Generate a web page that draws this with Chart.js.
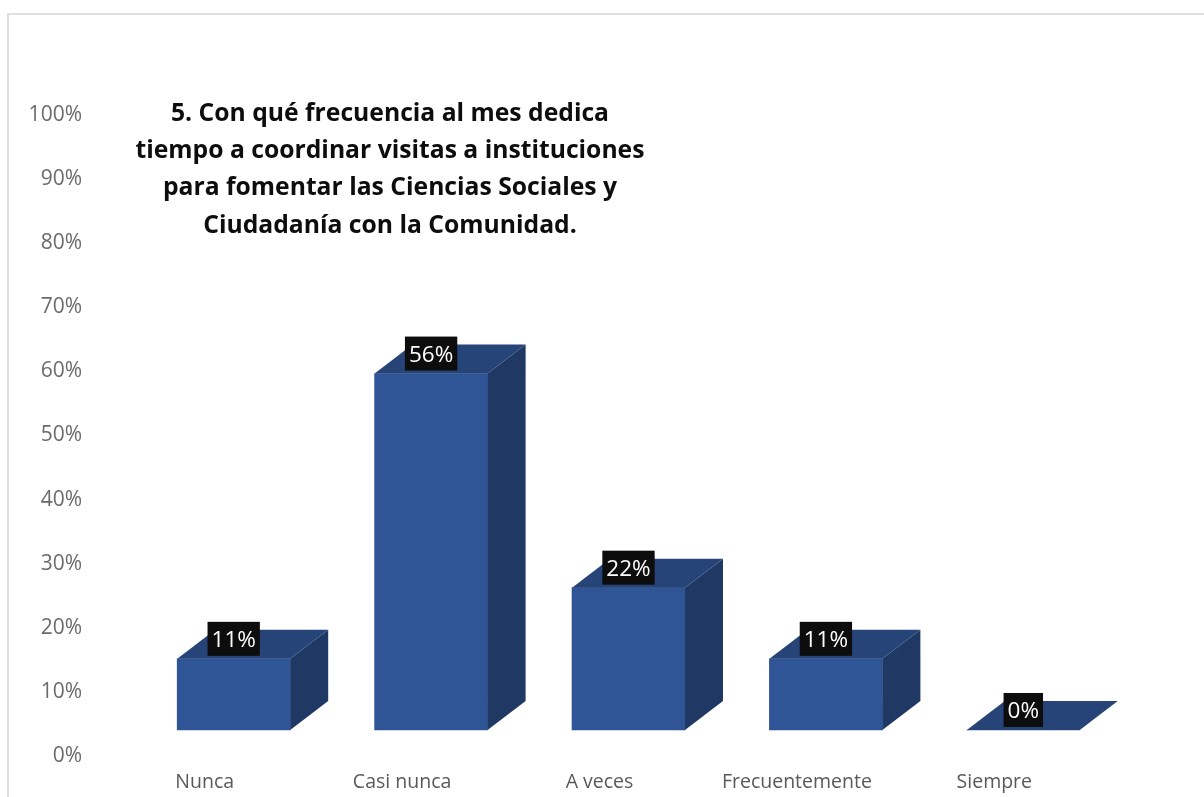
<!DOCTYPE html>
<html>
<head>
<meta charset="utf-8">
<title>Frecuencia</title>
<script src="https://cdn.jsdelivr.net/npm/chart.js@4/dist/chart.umd.min.js"></script>
<style>
  html, body { margin: 0; padding: 0; background: #fff; overflow: hidden; }
  #wrap { position: relative; width: 1204px; height: 797px; overflow: hidden; }
  #frame { position: absolute; left: 7px; top: 13px; right: -4px; bottom: -4px; border: 2px solid #e0e0e0; }
  canvas { position: absolute; left: 0; top: 0; }
</style>
</head>
<body>
<div id="wrap">
  <div id="frame"></div>
  <canvas id="chart" width="1204" height="797"></canvas>
</div>
<script>
const categories = ["Nunca", "Casi nunca", "A veces", "Frecuentemente", "Siempre"];
const values = [11.1, 55.6, 22.2, 11.1, 0];
const titleLines = [
  "5. Con qué frecuencia al mes dedica",
  "tiempo a coordinar visitas a instituciones",
  "para fomentar las Ciencias Sociales y",
  "Ciudadanía con la Comunidad."
];
const FONT = '"Open Sans", sans-serif';
const floorValue = 4.06; // the box floor sits above the 0% tick in the original
const depth = { x: 38, y: 29 };

// fake 3D sides + black value labels
const boxes = {
  id: "boxes",
  afterDatasetsDraw(chart) {
    const ctx = chart.ctx;
    const bars = chart.getDatasetMeta(0).data;
    bars.forEach((b, i) => {
      const left = b.x - b.width / 2, right = b.x + b.width / 2;
      const top = b.y, bottom = b.base;
      ctx.fillStyle = "#203864";
      ctx.beginPath();
      ctx.moveTo(right, top); ctx.lineTo(right + depth.x, top - depth.y);
      ctx.lineTo(right + depth.x, bottom - depth.y); ctx.lineTo(right, bottom);
      ctx.closePath(); ctx.fill();
      ctx.fillStyle = "#264478";
      ctx.beginPath();
      ctx.moveTo(left, top); ctx.lineTo(left + depth.x, top - depth.y);
      ctx.lineTo(right + depth.x, top - depth.y); ctx.lineTo(right, top);
      ctx.closePath(); ctx.fill();
    });
    ctx.font = "22.5px " + FONT;
    ctx.textAlign = "center";
    ctx.textBaseline = "middle";
    bars.forEach((b, i) => {
      const txt = Math.round(values[i]) + "%";
      const w = ctx.measureText(txt).width + 8;
      const cy = b.y - 20;
      ctx.fillStyle = "#0d0d0d";
      ctx.fillRect(b.x - w / 2, cy - 17, w, 34);
      ctx.fillStyle = "#fff";
      ctx.fillText(txt, b.x, cy + 2);
    });
  }
};

const chartTitle = {
  id: "chartTitle",
  afterDraw(chart) {
    const ctx = chart.ctx;
    ctx.font = "bold 24.7px " + FONT;
    ctx.fillStyle = "#0d0d0d";
    ctx.textAlign = "center";
    ctx.textBaseline = "middle";
    titleLines.forEach((line, i) => ctx.fillText(line, 390, 114 + i * 37.2));
  }
};

new Chart(document.getElementById("chart"), {
  type: "bar",
  data: {
    labels: categories,
    datasets: [{
      data: values.map(v => [floorValue, floorValue + v]),
      backgroundColor: "#2f5597",
      borderSkipped: false,
      barThickness: 113
    }]
  },
  plugins: [boxes, chartTitle],
  options: {
    responsive: false,
    animation: false,
    layout: { padding: { top: 115, right: 82, left: 0, bottom: 0 } },
    plugins: { legend: { display: false }, tooltip: { enabled: false } },
    scales: {
      x: {
        afterFit: s => { s.height = 41; },
        grid: { display: false, drawTicks: false },
        border: { display: false },
        ticks: { autoSkip: false, maxRotation: 0, labelOffset: -29, padding: 15, color: "#595959", font: { family: FONT, size: 19.5 } }
      },
      y: {
        min: 0, max: 100,
        // tick padding also leaks into the bottom margin, so drop it there
        afterFit: s => { s.width = 135; s.paddingBottom = 0; },
        grid: { display: false, drawTicks: false },
        border: { display: false },
        ticks: { stepSize: 10, padding: 53, color: "#6b6b6b", font: { family: FONT, size: 21 }, callback: v => v + "%" }
      }
    }
  }
});
</script>
</body>
</html>
